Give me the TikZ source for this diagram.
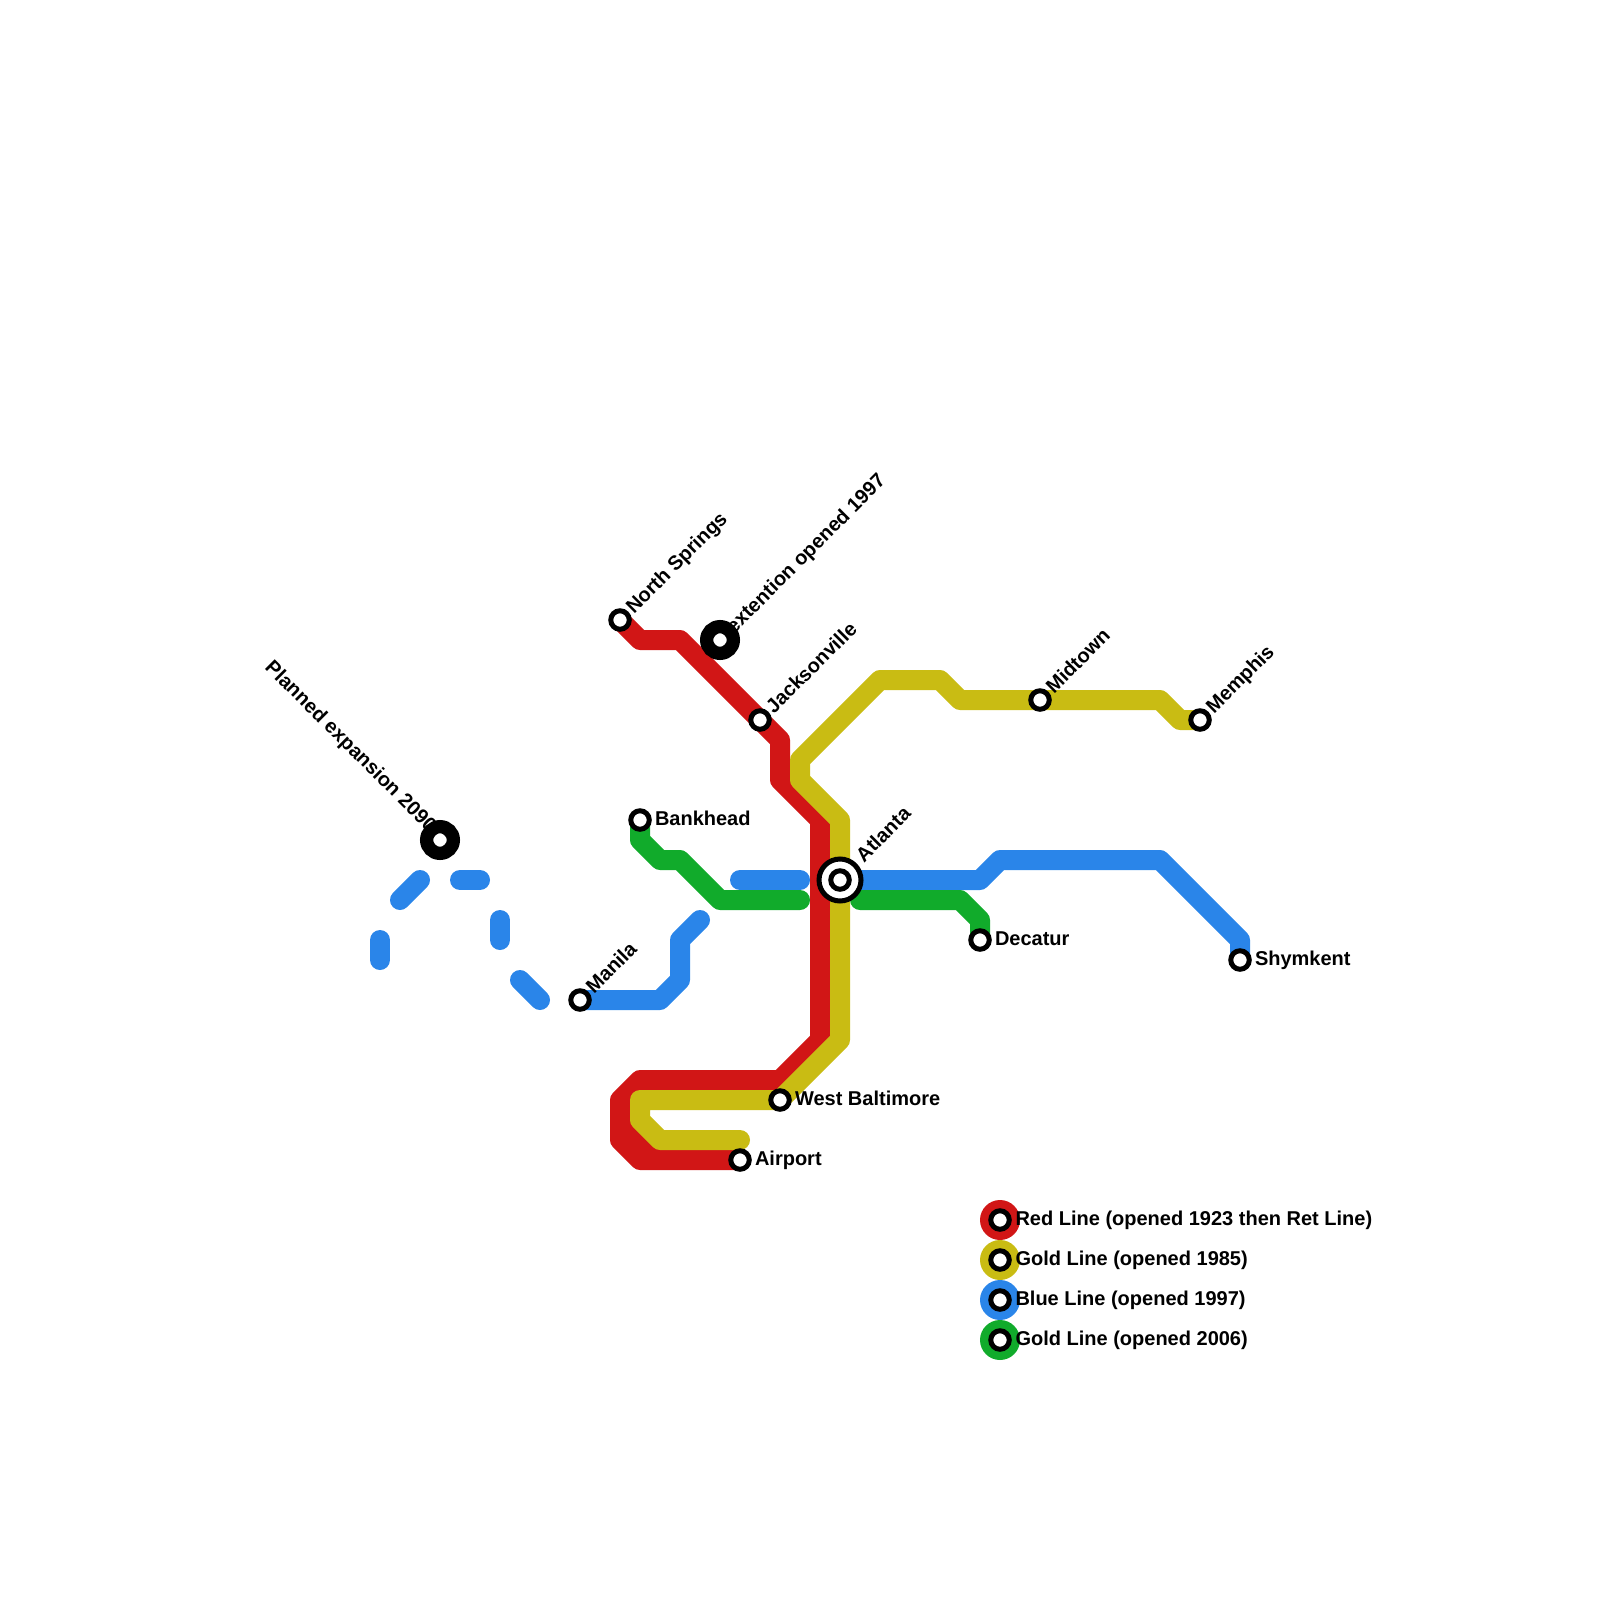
\documentclass[tikz,border=0pt]{standalone}
\usepackage{fontspec}
\setmainfont{Liberation Sans}
\definecolor{redline}{HTML}{D11616}
\definecolor{goldline}{HTML}{C9BC13}
\definecolor{blueline}{HTML}{2A85E9}
\definecolor{greenline}{HTML}{11AB2B}
\tikzset{
  line/.style={line width=20pt,line cap=round,line join=round},
  stn/.style={circle,draw=black,fill=white,line width=5pt,minimum size=18.5pt,inner sep=0pt,outer sep=0pt},
  bigstn/.style={circle,draw=black,fill=white,line width=13.3pt,minimum size=26.7pt,inner sep=0pt,outer sep=0pt},
  hubring/.style={circle,draw=black,fill=white,line width=5pt,minimum size=42pt,inner sep=0pt,outer sep=0pt},
  keydisc/.style={circle,minimum size=40pt,inner sep=0pt,outer sep=0pt},
  lab/.style={inner sep=0pt,outer sep=0pt,font=\fontsize{20}{22}\selectfont\bfseries,text=black},
  labr/.style={lab,anchor=base west},
  labd/.style={lab,anchor=base west,rotate=45},
  labm/.style={lab,anchor=base east,rotate=-45},
}
\begin{document}
\begin{tikzpicture}[x=1pt,y=-1pt]
\useasboundingbox (0,0) rectangle (1600,1600);
% station positions
\coordinate (ns) at (620,620);
\coordinate (ext) at (720,640);
\coordinate (jx) at (760,720);
\coordinate (mid) at (1040,700);
\coordinate (mem) at (1200,720);
\coordinate (bank) at (640,820);
\coordinate (plan) at (440,840);
\coordinate (atl) at (840,880);
\coordinate (dec) at (980,940);
\coordinate (shy) at (1240,960);
\coordinate (man) at (580,1000);
\coordinate (wb) at (780,1100);
\coordinate (air) at (740,1160);
\coordinate (k1) at (1000,1220);
\coordinate (k2) at (1000,1260);
\coordinate (k3) at (1000,1300);
\coordinate (k4) at (1000,1340);
% dash ends
\coordinate (d1a) at (380,940); \coordinate (d1b) at (380,960);
\coordinate (d2a) at (400,900); \coordinate (d2b) at (420,880);
\coordinate (d3a) at (460,880); \coordinate (d3b) at (480,880);
\coordinate (d4a) at (500,920); \coordinate (d4b) at (500,940);
\coordinate (d5a) at (520,980); \coordinate (d5b) at (540,1000);
\coordinate (b1a) at (740,880); \coordinate (b1b) at (800,880);
\coordinate (b2e) at (700,920);
\coordinate (g1e) at (800,900);
\coordinate (g2s) at (860,900);
\coordinate (au) at (740,1140);
% lines
\draw[line,redline] (620,1120) -- (650,1150);
\draw[line,redline] (ns) -- (640,640) -- (680,640) -- (jx) -- (780,740) -- (780,780) -- (820,820) -- (820,1040) -- (780,1080) -- (640,1080) -- (620,1100) -- (620,1140) -- (640,1160) -- (air);
\draw[line,goldline] (au) -- (660,1140) -- (640,1120) -- (640,1100) -- (wb) -- (840,1040) -- (atl) -- (840,820) -- (800,780) -- (800,760) -- (880,680) -- (940,680) -- (960,700) -- (mid) -- (1160,700) -- (1180,720) -- (mem);
\draw[line,blueline] (man) -- (660,1000) -- (680,980) -- (680,940) -- (b2e);
\draw[line,blueline] (b1a) -- (b1b);
\draw[line,blueline] (atl) -- (980,880) -- (1000,860) -- (1160,860) -- (1240,940) -- (shy);
\draw[line,blueline] (d1a) -- (d1b);
\draw[line,blueline] (d2a) -- (d2b);
\draw[line,blueline] (d3a) -- (d3b);
\draw[line,blueline] (d4a) -- (d4b);
\draw[line,blueline] (d5a) -- (d5b);
\draw[line,greenline] (bank) -- (640,840) -- (660,860) -- (680,860) -- (720,900) -- (g1e);
\draw[line,greenline] (g2s) -- (960,900) -- (980,920) -- (dec);
% labels
\node[labd] (tns) at ([shift={(14,-5.5)}]ns) {North Springs};
\node[labd] (text) at ([shift={(14,-5.5)}]ext) {extention opened 1997};
\node[labd] (tjx) at ([shift={(14,-5.5)}]jx) {Jacksonville};
\node[labd] (tmid) at ([shift={(14,-5.5)}]mid) {Midtown};
\node[labd] (tmem) at ([shift={(14,-5.5)}]mem) {Memphis};
\node[labd] (tatl) at ([shift={(24,-17)}]atl) {Atlanta};
\node[labd] (tman) at ([shift={(14,-5.5)}]man) {Manila};
\node[labm] (tplan) at ([shift={(-11.5,-7)}]plan) {Planned expansion 2090};
\node[labr] (tbank) at ([shift={(15,5)}]bank) {Bankhead};
\node[labr] (tdec) at ([shift={(15,5)}]dec) {Decatur};
\node[labr] (tshy) at ([shift={(15,5)}]shy) {Shymkent};
\node[labr] (twb) at ([shift={(15,5)}]wb) {West Baltimore};
\node[labr] (tair) at ([shift={(15,5)}]air) {Airport};
% legend
\node[keydisc,fill=redline] (kd1) at (k1) {};
\node[keydisc,fill=goldline] (kd2) at (k2) {};
\node[keydisc,fill=blueline] (kd3) at (k3) {};
\node[keydisc,fill=greenline] (kd4) at (k4) {};
\node[labr] (tk1) at ([shift={(15.5,5)}]k1) {Red Line (opened 1923 then Ret Line)};
\node[labr] (tk2) at ([shift={(15.5,5)}]k2) {Gold Line (opened 1985)};
\node[labr] (tk3) at ([shift={(15.5,5)}]k3) {Blue Line (opened 1997)};
\node[labr] (tk4) at ([shift={(15.5,5)}]k4) {Gold Line (opened 2006)};
% stations
\node[stn] (sns) at (ns) {};
\node[bigstn] (sext) at (ext) {};
\node[stn] (sjx) at (jx) {};
\node[stn] (smid) at (mid) {};
\node[stn] (smem) at (mem) {};
\node[stn] (sbank) at (bank) {};
\node[bigstn] (splan) at (plan) {};
\node[hubring] (satlo) at (atl) {};
\node[stn] (satl) at (atl) {};
\node[stn] (sdec) at (dec) {};
\node[stn] (sshy) at (shy) {};
\node[stn] (sman) at (man) {};
\node[stn] (swb) at (wb) {};
\node[stn] (sair) at (air) {};
\node[stn] (sk1) at (k1) {};
\node[stn] (sk2) at (k2) {};
\node[stn] (sk3) at (k3) {};
\node[stn] (sk4) at (k4) {};
\end{tikzpicture}
\end{document}
